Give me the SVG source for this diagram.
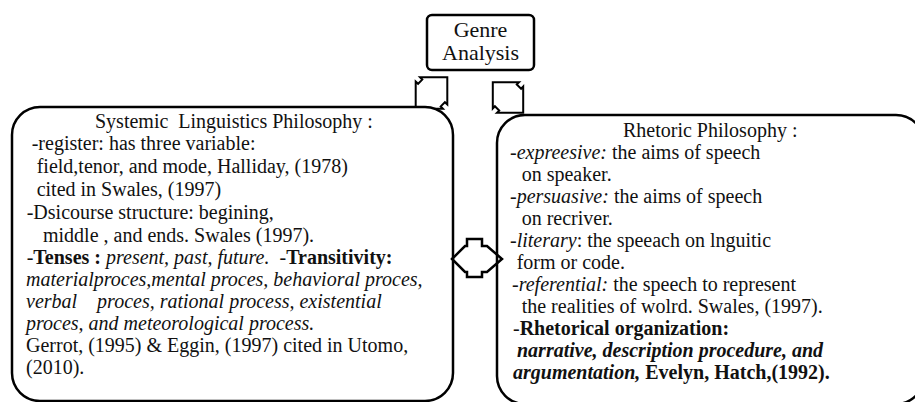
<svg xmlns="http://www.w3.org/2000/svg" width="915" height="402" viewBox="0 0 915 402">
<style>
.box{fill:#fff;stroke:#000;stroke-width:2.5}
.shp{fill:#fff;stroke:#000;stroke-width:2;stroke-linejoin:miter}
text{font-family:"Liberation Serif","Times New Roman",serif;font-size:20px;fill:#111;white-space:pre}
.t{font-size:22px}
.b{font-weight:bold}
.i{font-style:italic}
</style>
<g id="connectors">
<polygon class="shp" points="447.3,77.2 420.0,77.2 422.3,79.6 418.1,83.8 415.7,81.5 415.7,108.8 443.0,108.8 440.7,106.4 444.9,102.2 447.3,104.5"/>
<polygon class="shp" points="523.2,112.7 523.2,86.5 521.1,88.7 516.8,84.4 519.0,82.3 492.8,82.3 492.8,108.5 494.9,106.3 499.2,110.6 497.0,112.7"/>
</g>
<g id="genre">
<rect class="box" x="427" y="15" width="107" height="55" rx="5" stroke-width="2"/>
<text class="t" x="480.5" y="37" text-anchor="middle">Genre</text>
<text class="t" x="480.5" y="60" text-anchor="middle">Analysis</text>
</g>
<g id="systemic">
<rect class="box" x="12" y="107" width="441" height="294" rx="28"/>
<text x="95" y="128" xml:space="preserve">Systemic  Linguistics Philosophy :</text>
<text x="31.7" y="150">-register: has three variable:</text>
<text x="36.7" y="173">field,tenor, and mode, Halliday, (1978)</text>
<text x="36.7" y="196">cited in Swales, (1997)</text>
<text x="26.7" y="219">-Dsicourse structure: begining,</text>
<text x="43" y="242">middle , and ends. Swales (1997).</text>
<text x="26.7" y="264" xml:space="preserve">-<tspan class="b">Tenses :</tspan> <tspan class="i">present, past, future.</tspan>  -<tspan class="b">Transitivity:</tspan></text>
<text x="26" y="286" class="i">materialproces,mental proces, behavioral proces,</text>
<text x="26" y="308" class="i" xml:space="preserve">verbal    proces, rational process, existential</text>
<text x="26" y="330" class="i">proces, and meteorological process.</text>
<text x="26" y="352">Gerrot, (1995) &amp; Eggin, (1997) cited in Utomo,</text>
<text x="26" y="374">(2010).</text>
</g>
<g id="rhetoric">
<rect class="box" x="497" y="115" width="427" height="289" rx="28"/>
<text x="623" y="137">Rhetoric Philosophy :</text>
<text x="510" y="159" xml:space="preserve">-<tspan class="i">expreesive:</tspan> the aims of speech</text>
<text x="521.7" y="181">on speaker.</text>
<text x="510" y="203" xml:space="preserve">-<tspan class="i">persuasive:</tspan> the aims of speech</text>
<text x="521.7" y="225">on recriver.</text>
<text x="510" y="247" xml:space="preserve">-<tspan class="i">literary</tspan>: the speeach on lnguitic</text>
<text x="516.7" y="269">form or code.</text>
<text x="512" y="291" xml:space="preserve">-<tspan class="i">referential:</tspan> the speech to represent</text>
<text x="521.7" y="313">the realities of wolrd. Swales, (1997).</text>
<text x="513" y="335">-<tspan class="b">Rhetorical organization:</tspan></text>
<text x="517" y="357" class="b i">narrative, description procedure, and</text>
<text x="513" y="379" class="b" xml:space="preserve"><tspan class="i">argumentation,</tspan> Evelyn, Hatch,(1992).</text>
</g>
<g id="double-arrow">
<polygon fill="none" stroke="#000" stroke-width="2.5" points="452,259 465,246 467,246 467,239 482,239 482,246 487,246 502,259 487,272 482,272 482,277 467,277 467,272 465,272"/>
</g>
</svg>
